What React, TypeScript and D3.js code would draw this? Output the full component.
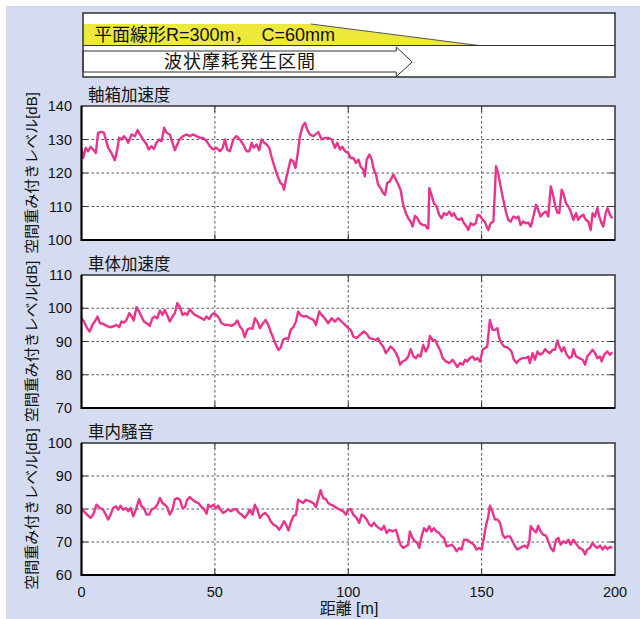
import React from "react";
import * as d3 from "d3";

// ---- data ----
const distTicks = [0, 50, 100, 150, 200];
const yTicksAxle = [100, 110, 120, 130, 140];
const yTicksBody = [70, 80, 90, 100, 110];
const yTicksCabin = [60, 70, 80, 90, 100];

const bannerCurveText = "平面線形R=300m，\u2002C=60mm";
const bannerWearText = "波状摩耗発生区間";
// banner positions in metres
const curveFlatEnd = 86;
const transitionEnd = 149;
const wearShaftEnd = 118;
const wearTip = 124;

const axleBox: [number, number][] = [[0,127],[0.6,124.5],[1.6,127.5],[2.5,126.5],[3.4,127.8],[4.4,127],[5.4,126],[6.2,132],[7.5,132.3],[8.4,132],[9.1,130],[10,127.5],[11.2,126],[12.5,123.8],[13.4,127],[14.1,130.5],[15,130],[15.9,131],[16.9,130],[17.5,129],[18.8,131.5],[20,131],[21,132.8],[21.9,131.5],[23.1,130],[24.4,128.5],[25.2,127],[26.2,128],[27.1,127.2],[28.1,129],[29.1,130],[30,129.5],[31,133.5],[31.9,132],[33.1,131.5],[34.1,129],[35,126.8],[35.9,128.5],[36.9,130.2],[38.1,131],[39.4,131.5],[40.6,131],[41.9,131.5],[43.1,131],[44.4,130.5],[45.6,130.5],[46.9,129.5],[48.1,128],[49.4,127],[50.6,127.5],[51.9,126.5],[52.9,127.5],[53.8,130],[54.6,127],[55.6,126.5],[56.9,130],[58.1,131],[59.4,130],[60.6,128.5],[61.9,126.5],[62.9,126.5],[63.8,129],[64.6,127.5],[65.6,128.5],[66.6,126.8],[67.5,130],[68.5,129],[69.4,128.5],[70.4,127.5],[71.2,125],[72.1,122.5],[73.1,120],[73.8,118.5],[74.6,117],[75.4,116.5],[75.9,115],[76.6,118],[77.5,121],[78.4,124],[79.4,123.5],[80.2,121.5],[81,125.5],[81.9,131],[82.9,134],[83.8,135],[84.6,133],[85.6,131.5],[86.9,131],[88.8,132.2],[90,130],[91.2,130.5],[92.5,130.5],[93.8,130],[95,127.5],[95.9,129],[96.9,127],[97.8,127.8],[98.8,126.5],[100,126],[100.9,124.5],[101.9,124.5],[102.9,123],[103.8,124],[104.6,122],[105.6,121],[106.2,119],[106.9,124],[107.9,125.5],[108.8,124],[109.6,121],[110.4,119.5],[111.2,116.5],[112.1,115.5],[113.1,114],[113.8,113.5],[114.6,117],[115.6,117.5],[116.9,119.5],[117.9,118],[118.8,116.5],[119.6,115],[120.6,110.5],[121.6,108],[122.5,106.5],[123.4,105.5],[124.1,104],[125,107.2],[125.9,106.5],[126.9,105],[127.9,104.5],[128.8,104.5],[129.6,103.5],[130,103.5],[130.4,115.5],[131.2,113.5],[132.1,111],[133.1,110],[134.1,107.5],[135,106.5],[135.9,108],[136.9,107.5],[137.9,108.5],[138.8,107.2],[139.6,108],[140.6,106.5],[141.6,106],[142.5,106.5],[143.4,105],[144.4,104],[145,103],[145.9,105],[146.9,104.5],[147.8,105],[148.5,107.5],[149.4,107.2],[150.4,106],[151.2,105.5],[151.9,104],[152.5,103],[153.4,105],[154.4,105.5],[155,115],[155.4,122],[156.2,120],[157.1,116],[158.1,112],[159.1,108.5],[160,106],[160.9,105.5],[161.9,107],[162.9,106.5],[163.8,107],[164.6,104.5],[165.6,105.5],[166.6,105],[167.5,105.2],[168.4,104],[169.4,107],[170.4,110.5],[171.2,109],[172.1,107],[173.1,108],[174.1,108.5],[175,107],[175.9,116],[176.6,114],[177.5,110.5],[178.4,108.2],[179.1,108],[180,115],[180.6,114],[181.6,111],[182.5,110],[183.4,108.5],[184.4,106],[185.4,108],[186.2,106],[187.1,107],[188.1,107.5],[189.1,106],[190,105.5],[190.9,103],[191.6,108],[192.5,107],[193.4,109.5],[194.1,107],[195,105],[195.6,104],[196.5,108],[197.2,109.5],[198.1,107.5],[199,106.5]];

const carBody: [number, number][] = [[0,97],[0.9,96],[2.1,94],[3.1,93],[4.1,95],[5,96],[6,97.5],[6.9,95.5],[8.1,95.3],[9.4,94.7],[10.6,94.3],[11.9,94.5],[13.1,95],[14.1,94.3],[15,96],[15.9,95.7],[16.9,96.5],[17.9,98.5],[18.8,97.5],[19.6,96.3],[20.6,100.3],[21.6,99],[22.5,97.5],[23.4,96],[24.4,95.5],[25.6,94.7],[26.6,97],[27.5,97.5],[28.4,97],[29.4,99.3],[30.4,98],[31.2,99.5],[32.1,98],[33.1,96],[34.1,97.5],[35,98.5],[35.9,101.5],[36.9,100.3],[37.9,98],[38.8,98.5],[39.6,98],[40.6,99.7],[41.6,98.7],[42.5,98],[43.8,97.5],[45,97],[45.9,96.5],[46.9,97.5],[47.9,96.7],[48.8,98],[49.6,98.5],[50.6,98],[51.6,97],[52.5,95.5],[53.8,95],[55,95],[56.2,94.7],[57.5,95.3],[58.4,96.3],[59.4,94.5],[60.4,93.5],[61.2,91.3],[62.1,93.5],[63.1,94],[64.1,93.8],[65,97],[65.9,96],[66.9,94],[67.9,95.3],[69,96.5],[70,95],[70.9,93],[71.9,91],[72.9,89],[73.8,87.5],[74.6,88],[75.6,90.5],[76.6,91],[77.5,90.7],[78.4,93.5],[79.4,94.3],[80.4,96],[81.2,99],[82.1,98],[83.1,97.5],[84.1,97.7],[85.6,97],[86.9,96.5],[87.9,95],[89.1,99],[90,98],[91.2,97],[92.5,95.5],[93.8,97],[95,96],[96.2,97],[97.5,96],[98.8,95],[100,94],[100.9,93.5],[101.9,91.5],[103.1,91],[104.4,92],[105.9,93],[106.9,92.3],[108.1,91],[109.4,90.7],[110.4,90.5],[111.2,91],[112.1,89.5],[113.1,88.5],[114.1,86.5],[115,87.5],[115.9,88.5],[116.9,87.7],[117.9,86.5],[118.8,85],[119.4,83],[120.4,84],[121.6,84.5],[122.5,85.5],[123.4,87.7],[124.4,85.5],[125.4,85],[126.2,86],[127.1,85.5],[128.1,89],[129.1,87],[130,88.5],[130.6,91.7],[131.6,90.5],[132.5,90.5],[133.4,89],[134.4,87.5],[135.4,85],[136.6,84],[137.9,83.5],[139.1,84.5],[140,83.5],[140.9,82.3],[141.9,83.5],[142.9,83],[143.8,84.5],[144.6,84],[145.6,85],[146.6,85.5],[147.5,84.5],[148.4,85],[149.4,84],[150.4,87.5],[151.2,88],[152.1,88.5],[153.1,96.5],[154.1,93.5],[155,93.5],[155.9,94],[156.6,91],[157.5,89.5],[158.4,88.5],[159.4,88.3],[160.4,87.7],[161.2,87],[162.1,84.5],[163.1,83.5],[164.1,84.5],[165.4,85],[166.6,85],[167.5,85.5],[168.1,83.5],[169.1,86.5],[170,84.5],[170.9,87],[171.9,86],[172.9,86.5],[173.8,87.7],[174.6,87],[175.6,86.5],[176.6,87.5],[177.5,87.5],[178.4,90.3],[179.1,88.5],[180,87],[180.9,88.3],[181.9,86],[182.9,85],[183.8,85.5],[184.4,87.7],[185.4,85.5],[186.6,85],[187.9,84.5],[188.8,83],[189.6,85.5],[190.6,86.5],[191.6,87.5],[192.5,86.5],[193.4,85],[194.4,85.5],[195,84],[195.9,86],[197.1,87],[198.1,86],[199,86.7]];

const cabinNoise: [number, number][] = [[0,80.3],[0.9,79.3],[2.1,78.3],[3.4,77.3],[4.4,78.3],[5.6,81.3],[6.9,80.3],[8.1,79.8],[9.1,78.3],[10,76.8],[10.9,78.3],[11.9,80.3],[12.9,80.8],[13.8,79.8],[14.6,81],[15.6,79.8],[16.6,80.3],[17.5,79.3],[18.4,80.3],[19.4,77.8],[20.4,79.8],[21.6,83],[22.5,80.8],[23.4,80.3],[24.4,78.3],[25.4,78.3],[26.2,79.8],[27.5,80.3],[28.4,81.3],[29.4,83.3],[30.4,81.8],[31.2,81.3],[32.1,80.6],[33.1,78.3],[34.1,79.8],[35,83],[35.9,83.3],[36.9,82.8],[37.9,80.3],[38.8,80.6],[39.6,82.8],[40.6,83.6],[41.6,82.8],[42.5,82.3],[43.8,81.8],[45,80.6],[45.9,80],[46.9,78.6],[47.5,81.3],[48.4,80.6],[49.4,81.3],[50.4,80.3],[51.2,81],[52.1,79.8],[53.1,78.8],[54.1,79.3],[55,80],[55.9,79.3],[56.9,79.8],[57.9,80],[59.1,78.8],[60,78.3],[61.2,77.3],[62.1,78.3],[63.1,79.8],[64.1,78.3],[65,81.3],[65.9,79.8],[66.9,77.3],[67.9,78.3],[68.8,78.8],[70,77.8],[70.9,76.3],[71.9,75.3],[73.1,74.8],[74.1,73.7],[75,74.8],[75.9,76.3],[76.9,74.9],[77.6,73.5],[78.4,75.8],[79.4,77.8],[80.4,78.3],[81.2,82.8],[82.1,82.3],[83.1,81.8],[84.1,82.8],[85.6,82.3],[86.9,81.8],[87.9,80.6],[88.8,83.3],[89.6,85.7],[90.6,83.3],[91.6,83],[92.5,81.8],[93.4,81.3],[94.4,81],[95.6,80.3],[96.9,79.8],[98.1,79.3],[99.1,78.3],[100,79.8],[100.9,80],[101.9,78.3],[103.1,77.3],[104.1,75.8],[105,78.3],[105.9,77.8],[106.9,76.8],[107.9,75.3],[108.8,74.8],[109.6,75.8],[110.6,74.8],[111.6,74.2],[112.5,73.7],[113.4,74.9],[114.4,72.7],[115.4,73.7],[116.6,73.2],[117.9,73.7],[118.8,71.2],[119.6,69.2],[120.6,68.2],[121.6,68.7],[122.5,69.2],[123.1,73.2],[124.1,71.2],[125,70.2],[125.9,69.7],[126.6,68.2],[127.5,71.7],[128.4,74.2],[129.4,73.2],[130.4,74.8],[131.2,73.2],[132.1,74.2],[133.1,73.2],[134.1,72.7],[135,71.7],[135.9,71.2],[136.9,68.7],[137.9,68.9],[138.8,69.2],[139.6,68.5],[140.6,67.2],[141.6,68.2],[142.5,67.7],[143.4,70.7],[144.4,70.7],[145.4,70.2],[146.2,69.7],[147.1,69.2],[148.1,67.7],[149.1,68.2],[150,67.7],[150.6,70.2],[151.6,74.8],[152.5,77.8],[153.1,81],[154,79.3],[155,76.8],[155.9,76.8],[156.9,75.8],[157.9,72.2],[158.8,71.2],[159.6,71.7],[160.6,71.7],[161.6,70.2],[162.5,68.7],[163.4,67.7],[164.4,68.2],[165.4,68.7],[166.2,68.9],[167.1,68.2],[167.9,70.2],[168.4,74.8],[169.4,73.7],[170.4,72.9],[171.2,74.9],[172.1,73.2],[173.1,72.2],[174.1,71.9],[175,70.2],[175.9,68.2],[176.9,67.2],[177.9,70.7],[178.8,71.2],[179.6,69.2],[180.6,70.2],[181.6,69.7],[182.5,70.7],[183.4,69.2],[184.4,70.7],[185.4,69.5],[186.6,68.2],[187.9,67.7],[188.8,66.2],[189.6,67.7],[190.6,68.2],[191.6,69.7],[192.5,68.7],[193.4,68.2],[194.4,68.9],[195.4,67.7],[196.2,68.7],[197.1,67.9],[198.1,68.5],[199,68.2]];

const panelTitles = ["軸箱加速度", "車体加速度", "車内騒音"];
const yLabel = "空間重み付きレベル[dB]";
const xLabel = "距離 [m]";

// ---- layout ----
const W = 640;
const H = 619;
const FONT = '"Liberation Sans", Arial, "Noto Sans CJK JP", sans-serif';
const LEFT = 81.5;
const RIGHT = 615;
const panelsLayout = [
  { top: 106, bottom: 240 },
  { top: 275, bottom: 408 },
  { top: 443, bottom: 575 },
];

const x = d3.scaleLinear().domain([0, 200]).range([LEFT, RIGHT]);

function Panel({ idx, data, ticks }: { idx: number; data: [number, number][]; ticks: number[] }) {
  const { top, bottom } = panelsLayout[idx];
  const y = d3.scaleLinear().domain([ticks[0], ticks[ticks.length - 1]]).range([bottom, top]);
  const line = d3
    .line<[number, number]>()
    .x((d) => x(d[0]))
    .y((d) => y(d[1]));
  const clipId = `clip${idx}`;
  const mid = (top + bottom) / 2;
  return (
    <g>
      <rect x={LEFT} y={top} width={RIGHT - LEFT} height={bottom - top} fill="#fff" />
      {distTicks.slice(1, -1).map((t) => (
        <line key={"v" + t} x1={x(t)} x2={x(t)} y1={top} y2={bottom} stroke="#555" strokeWidth={1} strokeDasharray="2.5,2.5" />
      ))}
      {ticks.slice(1, -1).map((t) => (
        <line key={"h" + t} x1={LEFT} x2={RIGHT} y1={y(t)} y2={y(t)} stroke="#555" strokeWidth={1} strokeDasharray="2.5,2.5" />
      ))}
      {ticks.slice(1, -1).map((t) => (
        <g key={"t" + t}>
          <line x1={LEFT} x2={LEFT + 6} y1={y(t)} y2={y(t)} stroke="#333" strokeWidth={1} />
          <line x1={RIGHT - 6} x2={RIGHT} y1={y(t)} y2={y(t)} stroke="#333" strokeWidth={1} />
        </g>
      ))}
      {distTicks.slice(1, -1).map((t) => (
        <g key={"xt" + t}>
          <line x1={x(t)} x2={x(t)} y1={bottom - 6} y2={bottom} stroke="#333" strokeWidth={1} />
          <line x1={x(t)} x2={x(t)} y1={top} y2={top + 6} stroke="#333" strokeWidth={1} />
        </g>
      ))}
      <clipPath id={clipId}>
        <rect x={LEFT} y={top} width={RIGHT - LEFT} height={bottom - top} />
      </clipPath>
      <path d={line(data) || ""} fill="none" stroke="#E8348C" strokeWidth={2.4} strokeLinejoin="round" clipPath={`url(#${clipId})`} />
      <rect x={LEFT} y={top} width={RIGHT - LEFT} height={bottom - top} fill="none" stroke="#333" strokeWidth={1.5} />
      <line x1={LEFT} x2={LEFT} y1={top} y2={bottom + 1} stroke="#000" strokeWidth={2} />
      <line x1={LEFT} x2={RIGHT} y1={bottom} y2={bottom} stroke="#000" strokeWidth={2} />
      {ticks.map((t) => (
        <text key={"l" + t} x={72} y={y(t)} textAnchor="end" dominantBaseline="central" fontSize={14.5} fill="#111">
          {t}
        </text>
      ))}
      <text x={88} y={top - 5} fontSize={16.5} fill="#111">
        {panelTitles[idx]}
      </text>
      <text transform={`translate(31,${mid}) rotate(-90)`} textAnchor="middle" dominantBaseline="central" fontSize={15} fill="#111">
        {yLabel}
      </text>
    </g>
  );
}

export default function App() {
  const bL = 83;
  const bR = 615;
  const bTop = 13;
  const bBot = 77;
  const yelTop = 24;
  const div = 45.5;
  const shaftTop = 51;
  const shaftBot = 72;
  const headTop = 47;
  const headBot = 76.5;
  const xFlat = x(curveFlatEnd);
  const xTrans = x(transitionEnd);
  const xShaft = x(wearShaftEnd);
  const xTip = x(wearTip);
  return (
    <svg width={W} height={H} style={{ position: "absolute", left: 0, top: 0 }} fontFamily={FONT}>
      <rect x={0} y={0} width={W} height={H} fill="#fff" />
      <rect x={6} y={6} width={W - 6} height={H - 6} fill="#D5DBF0" />
      {/* banner */}
      <rect x={bL} y={bTop} width={bR - bL} height={bBot - bTop} fill="#fff" />
      <polygon points={`${bL},${yelTop} ${xFlat},${yelTop} ${xTrans},${div} ${bL},${div}`} fill="#EDE83C" />
      <line x1={xFlat} y1={yelTop} x2={xTrans} y2={div} stroke="#555" strokeWidth={1} />
      <line x1={bL} x2={bR} y1={div} y2={div} stroke="#333" strokeWidth={1.2} />
      <polygon
        points={`${bL},${shaftTop} ${xShaft},${shaftTop} ${xShaft},${headTop} ${xTip},${(shaftTop + shaftBot) / 2 + 0.5} ${xShaft},${headBot} ${xShaft},${shaftBot} ${bL},${shaftBot}`}
        fill="#fff"
        stroke="#333"
        strokeWidth={1}
      />
      <rect x={bL} y={bTop} width={bR - bL} height={bBot - bTop} fill="none" stroke="#333" strokeWidth={1.5} />
      <text x={94} y={41} fontSize={18} fill="#111">
        {bannerCurveText}
      </text>
      <text x={240} y={68} fontSize={18} textAnchor="middle" fill="#111" letterSpacing={1}>
        {bannerWearText}
      </text>
      <Panel idx={0} data={axleBox} ticks={yTicksAxle} />
      <Panel idx={1} data={carBody} ticks={yTicksBody} />
      <Panel idx={2} data={cabinNoise} ticks={yTicksCabin} />
      {distTicks.map((t) => (
        <text key={"x" + t} x={x(t)} y={592} textAnchor="middle" dominantBaseline="central" fontSize={14.5} fill="#111">
          {t}
        </text>
      ))}
      <text x={349} y={614} textAnchor="middle" fontSize={16} fill="#111">
        {xLabel}
      </text>
    </svg>
  );
}
